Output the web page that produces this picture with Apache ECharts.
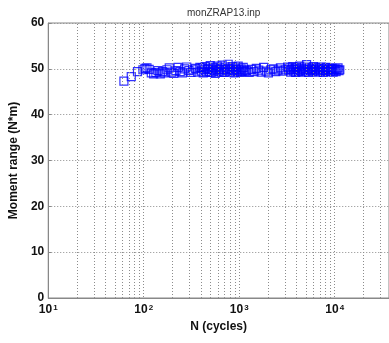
<!DOCTYPE html>
<html>
<head>
<meta charset="utf-8">
<script src="https://cdn.jsdelivr.net/npm/echarts@6/dist/echarts.min.js"></script>
<style>html,body{margin:0;padding:0;background:#fff}#c{width:389px;height:343px}</style>
</head>
<body>
<div id="c"></div>
<script>
const cycles = [
  62,74,86,98,103,108,114,120,127,134,141,149,157,166,175,185,195,206,217,229,241,254,268,282,297,313,330,348,367,387,
  400,410,420,430,440,451,462,473,485,497,509,521,534,547,560,574,588,602,617,632,647,663,679,696,713,730,748,766,785,804,824,844,864,885,907,929,952,975,999,1023,1048,1074,1100,1127,1150,
  1200,1270,1350,1430,1510,1600,1700,1800,1910,2020,2140,2270,2410,2550,2700,2860,3030,3210,
  3300,3380,3460,3540,3630,3720,3810,3900,3990,4090,4190,4290,4390,4500,4610,4720,4830,4950,5070,5190,5310,5440,5570,5710,5850,5990,6130,6280,6430,6580,6740,6900,7070,7240,7410,7590,7770,7960,8150,8350,8550,8750,8960,9180,9400,9620,9850,10090,10330,10580,10830,11090,11300
];
const momentRange = [
  47.3,48.3,49.4,49.8,50.1,50.2,49.9,49.1,48.9,49.2,49.6,48.9,49.4,49.1,49.8,50.2,49.3,49.0,49.6,50.3,49.4,49.1,50.0,50.4,49.6,49.2,49.8,50.1,49.3,50.3,
  49.5,50.2,49.1,49.8,50.5,49.3,49.9,50.1,49.4,50.7,49.2,49.8,50.3,49.6,49.0,50.0,50.6,49.4,49.9,50.2,49.3,50.8,49.7,49.2,50.4,49.9,49.5,51.0,50.1,49.3,49.8,50.5,49.6,49.1,50.2,49.9,49.4,50.6,49.7,49.2,50.0,49.5,50.3,49.8,49.4,
  49.6,49.2,49.9,49.4,50.1,49.7,49.3,50.3,49.5,49.1,49.8,50.0,49.4,49.7,50.2,49.5,49.8,50.4,
  49.7,50.2,49.3,49.9,50.5,49.5,50.0,49.2,50.3,49.8,49.4,50.6,49.6,50.1,49.3,49.9,50.4,49.5,50.9,49.8,49.2,50.2,49.7,50.0,49.4,50.5,49.6,49.9,50.3,49.3,49.8,50.1,49.5,50.4,49.7,49.2,50.0,49.6,50.3,49.4,49.9,50.2,49.5,49.8,50.1,49.3,49.7,50.0,49.4,49.9,50.2,49.6,49.8
];
const minorGridX = [20,30,40,50,60,70,80,90,200,300,400,500,600,700,800,900,2000,3000,4000,5000,6000,7000,8000,9000,20000,30000];
const yTicks = [0,10,20,30,40,50,60];
const xTickExponents = {10:'1',100:'2',1000:'3',10000:'4'};

const chart = echarts.init(document.getElementById('c'));
const gridColor = '#8c8c8c';
const dotType = [1, 2];
chart.setOption({
  animation: false,
  title: {
    text: 'monZRAP13.inp', left: 182, top: 3,
    textStyle: {fontFamily: 'Liberation Sans', fontSize: 10, fontWeight: 'normal', color: '#333'}
  },
  grid: {left: 46, right: -3, top: 23, bottom: 45, show: true, borderColor: '#888', borderWidth: 1, backgroundColor: 'transparent'},
  xAxis: {
    type: 'log', logBase: 10, min: 10, max: 37000, interval: 1,
    name: 'N (cycles)', nameLocation: 'middle', nameGap: 22,
    nameTextStyle: {fontFamily: 'Liberation Sans', fontSize: 12, fontWeight: 'bold', color: '#111'},
    axisLine: {show: true, lineStyle: {color: '#888'}},
    axisTick: {show: false},
    axisLabel: {
      showMaxLabel: false, margin: 6,
      formatter: v => {
        const e = xTickExponents[Math.round(v)];
        return e ? '{b|10}{s|' + e + '}' : '';
      },
      rich: {
        b: {fontFamily: 'Liberation Sans', fontSize: 12, fontWeight: 'bold', color: '#111', verticalAlign: 'bottom'},
        s: {fontFamily: 'Liberation Sans', fontSize: 8, fontWeight: 'bold', color: '#111', verticalAlign: 'top', padding: [0,0,0,1]}
      }
    },
    splitLine: {show: true, lineStyle: {color: gridColor, type: dotType, width: 1}}
  },
  yAxis: {
    type: 'value', min: 0, max: 60, interval: 10,
    name: 'Moment range (N*m)', nameLocation: 'middle', nameGap: 16,
    nameTextStyle: {fontFamily: 'Liberation Sans', fontSize: 12, fontWeight: 'bold', color: '#111'},
    axisLine: {show: true, lineStyle: {color: '#888'}},
    axisTick: {show: true, inside: true, length: 3, lineStyle: {color: '#888'}},
    axisLabel: {
      margin: 4, fontFamily: 'Liberation Sans', fontSize: 12, fontWeight: 'bold', color: '#111',
      formatter: v => yTicks.includes(v) ? String(v) : ''
    },
    splitLine: {show: true, lineStyle: {color: gridColor, type: dotType, width: 1}}
  },
  series: [{
    type: 'scatter',
    data: cycles.map((n, i) => [n, momentRange[i]]),
    symbol: 'rect', symbolSize: 8,
    itemStyle: {color: 'rgba(0,0,0,0)', borderColor: '#0000ff', borderWidth: 1.2},
    z: 3,
    markLine: {
      silent: true, symbol: 'none', animation: false,
      label: {show: false},
      lineStyle: {color: gridColor, type: dotType, width: 1},
      emphasis: {disabled: true},
      data: minorGridX.map(x => ({xAxis: x}))
    }
  }]
});
</script>
</body>
</html>
